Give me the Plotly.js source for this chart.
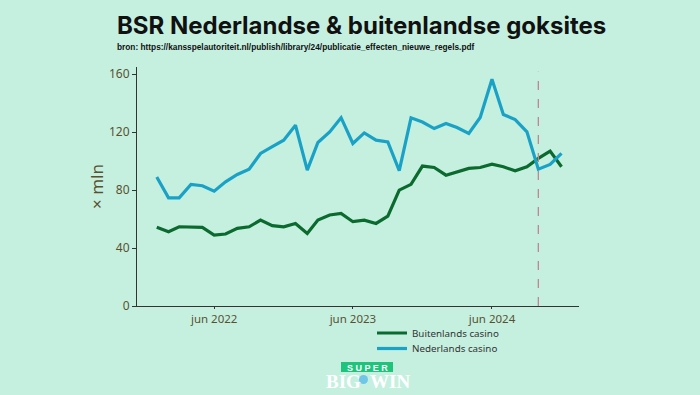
<!DOCTYPE html>
<html>
<head>
<meta charset="utf-8">
<script src="https://cdn.plot.ly/plotly-3.0.1.min.js"></script>
<style>
  html, body { margin: 0; padding: 0; background: #c5f0e0; }
  #chart { width: 700px; height: 395px; }
</style>
</head>
<body>
<div id="chart"></div>
<script>
const months = [
  '2022-01-01','2022-02-01','2022-03-01','2022-04-01','2022-05-01','2022-06-01',
  '2022-07-01','2022-08-01','2022-09-01','2022-10-01','2022-11-01','2022-12-01',
  '2023-01-01','2023-02-01','2023-03-01','2023-04-01','2023-05-01','2023-06-01',
  '2023-07-01','2023-08-01','2023-09-01','2023-10-01','2023-11-01','2023-12-01',
  '2024-01-01','2024-02-01','2024-03-01','2024-04-01','2024-05-01','2024-06-01',
  '2024-07-01','2024-08-01','2024-09-01','2024-10-01','2024-11-01','2024-12-01'
];
const buitenlands = [
  54.3, 51.3, 54.7, 54.3, 54.3, 49.0, 49.7, 53.6, 54.7, 59.3, 55.5, 54.7,
  57.0, 50.1, 59.3, 62.8, 63.9, 58.2, 59.3, 57.0, 62.0, 80.0, 84.0, 96.6,
  95.6, 90.3, 92.6, 95.0, 95.6, 97.9, 96.1, 93.3, 96.1, 101.9, 106.9, 96.1
];
const nederlands = [
  89.0, 74.7, 74.7, 84.0, 83.0, 79.3, 85.7, 90.8, 94.5, 105.3, 110.0, 114.5,
  124.8, 93.8, 112.9, 120.2, 130.0, 112.2, 119.5, 114.5, 113.3, 93.5, 129.9, 127.0,
  122.5, 126.0, 123.2, 119.1, 130.1, 156.5, 132.2, 128.7, 120.2, 94.5, 97.7, 105.3
];
const seriesNames = ['Buitenlands casino', 'Nederlands casino'];
const tickDates = ['2022-06-01', '2023-06-01', '2024-06-01'];
const tickLabels = ['jun 2022', 'jun 2023', 'jun 2024'];
const yTicks = [0, 40, 80, 120, 160];
const cutoffDate = '2024-10-01';

const GREEN = '#0b6a2e';
const BLUE = '#1aa2c6';
const BG = '#c5f0e0';
const TICKCOL = '#5a5030';

const traces = [
  { x: months, y: buitenlands, type: 'scatter', mode: 'lines', name: seriesNames[0],
    line: { color: GREEN, width: 3.2 }, legend: 'legend' },
  { x: months, y: nederlands, type: 'scatter', mode: 'lines', name: seriesNames[1],
    line: { color: BLUE, width: 3.2 }, legend: 'legend2' }
];

// paper-coordinate helpers for placement (plot area: x 137..579, y 67..306)
const px = v => (v - 137) / 442;
const py = v => (306 - v) / 239;

const legendStyle = (topPx) => ({
  x: px(372), xanchor: 'left', y: py(topPx), yanchor: 'top',
  bgcolor: 'rgba(0,0,0,0)', font: { size: 9.8, color: '#333333' }
});

const layout = {
  width: 700, height: 395,
  paper_bgcolor: BG, plot_bgcolor: BG,
  margin: { l: 137, r: 121, t: 67, b: 89 },
  font: { family: 'Noto Sans, sans-serif', color: TICKCOL },
  title: {
    text: '<b>BSR Nederlandse &amp; buitenlandse goksites</b>',
    font: { family: 'Inter, sans-serif', size: 24, color: '#111111' },
    x: 0.508, xref: 'paper', xanchor: 'center',
    y: 0.935, yref: 'container', yanchor: 'middle'
  },
  showlegend: true,
  legend: legendStyle(318.5),
  legend2: legendStyle(334),
  xaxis: {
    type: 'date', range: ['2021-11-10', '2025-01-16'],
    tickvals: tickDates, ticktext: tickLabels,
    showgrid: false, zeroline: false, showline: true, linecolor: '#333333', linewidth: 1,
    ticks: 'outside', ticklen: 2, tickcolor: '#333333',
    tickfont: { size: 11.5, color: TICKCOL }
  },
  yaxis: {
    range: [0, 165], tickvals: yTicks,
    showgrid: false, zeroline: false, showline: true, linecolor: '#333333', linewidth: 1,
    ticks: 'outside', ticklen: 4, tickcolor: '#333333',
    tickfont: { size: 12, color: TICKCOL },
    title: { text: '× mln', font: { size: 17, color: TICKCOL }, standoff: 1 }
  },
  shapes: [
    { type: 'line', xref: 'x', yref: 'paper', x0: cutoffDate, x1: cutoffDate, y0: 0, y1: 0.98,
      line: { color: '#bf8590', width: 1.3, dash: 'dash' } },
    { type: 'rect', xref: 'paper', yref: 'paper', x0: px(341), x1: px(393), y0: py(372), y1: py(362),
      fillcolor: '#1fc47c', line: { width: 0 } },
    { type: 'circle', xref: 'paper', yref: 'paper', x0: px(359), x1: px(368), y0: py(384), y1: py(375),
      fillcolor: '#6fc6e6', line: { width: 0 } }
  ],
  annotations: [
    { text: '<b>bron: https://kansspelautoriteit.nl/publish/library/24/publicatie_effecten_nieuwe_regels.pdf</b>',
      xref: 'paper', yref: 'paper', x: px(115), y: py(47), xanchor: 'left', yanchor: 'middle',
      showarrow: false, font: { family: 'Liberation Sans, sans-serif', size: 8.3, color: '#111111' } },
    { text: '<b>S U P E R</b>', xref: 'paper', yref: 'paper', x: px(367), y: py(367.5),
      xanchor: 'center', yanchor: 'middle', showarrow: false,
      font: { family: 'Liberation Sans, sans-serif', size: 9, color: '#ffffff' } },
    { text: '<b>BIG</b>', xref: 'paper', yref: 'paper', x: px(343), y: py(381.5),
      xanchor: 'center', yanchor: 'middle', showarrow: false,
      font: { family: 'Liberation Serif, serif', size: 19, color: '#ffffff' } },
    { text: '<b>WIN</b>', xref: 'paper', yref: 'paper', x: px(390), y: py(381.5),
      xanchor: 'center', yanchor: 'middle', showarrow: false,
      font: { family: 'Liberation Serif, serif', size: 19, color: '#ffffff' } }
  ]
};

Plotly.newPlot('chart', traces, layout, { displayModeBar: false, responsive: false });
</script>
</body>
</html>
